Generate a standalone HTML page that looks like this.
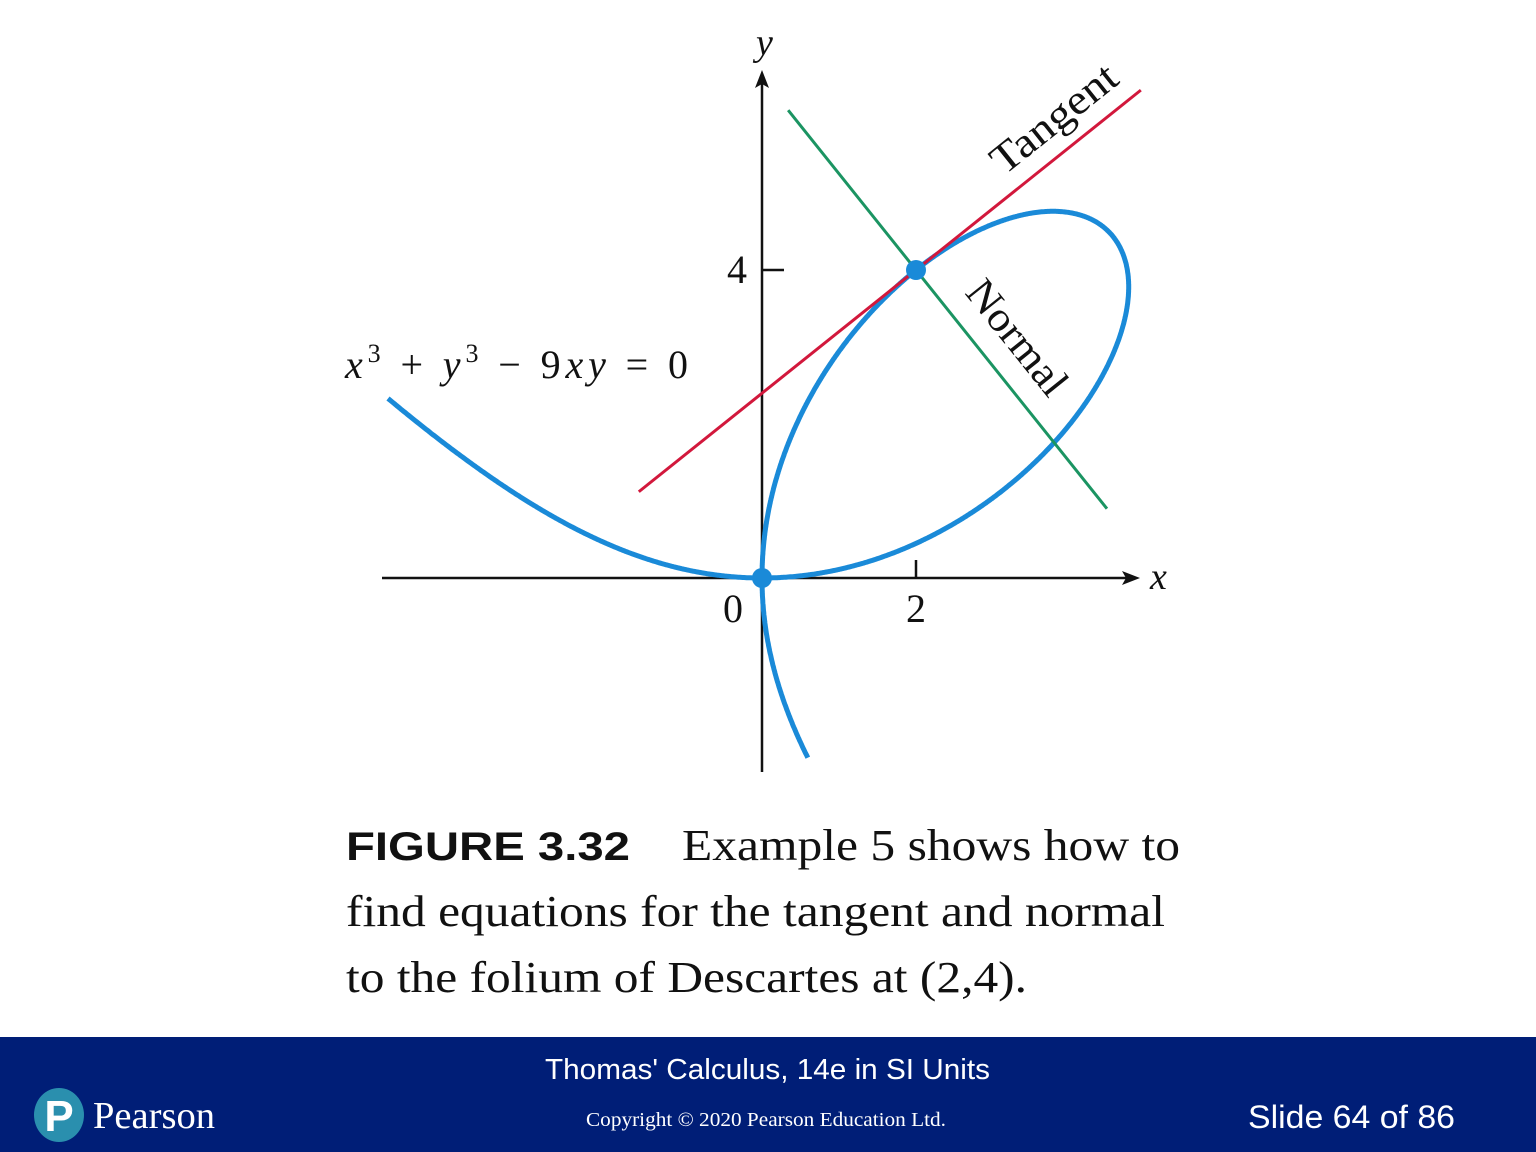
<!DOCTYPE html>
<html><head><meta charset="utf-8"><style>
html,body{margin:0;padding:0;width:1536px;height:1152px;overflow:hidden;background:#fff;}
svg text{font-family:"Liberation Serif",serif;}
</style></head><body>
<svg width="1536" height="1152" viewBox="0 0 1536 1152">
<g id="chart"></g>
<text x="346" y="860" font-weight="bold" font-size="40" fill="#111" textLength="284" lengthAdjust="spacingAndGlyphs" style="font-family:'Liberation Sans',sans-serif">FIGURE 3.32</text>
<text x="682" y="860" font-size="44" fill="#111" textLength="498" lengthAdjust="spacingAndGlyphs">Example 5 shows how to</text>
<text x="346" y="926" font-size="44" fill="#111" textLength="819" lengthAdjust="spacingAndGlyphs">find equations for the tangent and normal</text>
<text x="346" y="992" font-size="44" fill="#111" textLength="681" lengthAdjust="spacingAndGlyphs">to the folium of Descartes at (2,4).</text>
<rect x="0" y="1037" width="1536" height="115" fill="#001e77"/>
<text x="545" y="1079" font-size="29" fill="#fff" textLength="445" lengthAdjust="spacingAndGlyphs" style="font-family:'Liberation Sans',sans-serif">Thomas' Calculus, 14e in SI Units</text>
<text x="586" y="1126" font-size="20" fill="#fff" textLength="360" lengthAdjust="spacingAndGlyphs">Copyright © 2020 Pearson Education Ltd.</text>
<text x="1248" y="1128" font-size="32" fill="#fff" textLength="207" lengthAdjust="spacingAndGlyphs" style="font-family:'Liberation Sans',sans-serif">Slide 64 of 86</text>
<g>
<ellipse cx="59" cy="1115" rx="25" ry="27" fill="#2a8fae"/>
<text x="59" y="1131" text-anchor="middle" font-size="44" font-weight="bold" fill="#fff" style="font-family:'Liberation Sans',sans-serif">P</text>
<text x="93" y="1128" font-size="38" fill="#fff" textLength="122" lengthAdjust="spacingAndGlyphs">Pearson</text>
</g>
</svg>
<script>
const tRange=[-0.48,-0.255];
const tangentX=[-1.6,4.92];
const normalX=[0.34,4.48];
const pointsX=[0,2];
const pointsY=[0,4];
const xTicks=[2];
const yTicks=[4];
const ox=762,oy=578,s=77;
const X=v=>ox+v*s, Y=v=>oy-v*s;
const NS="http://www.w3.org/2000/svg";
const g=document.getElementById('chart');
function mk(t,a){const e=document.createElementNS(NS,t);for(const k in a)e.setAttribute(k,a[k]);g.appendChild(e);return e;}
let e=mk('line',{x1:382,y1:oy,x2:1132,y2:oy,stroke:'#111','stroke-width':2.5});

e=mk('path',{d:`M1140 ${oy} L1122 ${oy-7} L1126 ${oy} L1122 ${oy+7}Z`,fill:'#111'});

e=mk('line',{x1:ox,y1:772,x2:ox,y2:78,stroke:'#111','stroke-width':2.5});

e=mk('path',{d:`M${ox} 70 L${ox-7} 88 L${ox} 84 L${ox+7} 88Z`,fill:'#111'});

xTicks.forEach(v=>{e=mk('line',{x1:X(v),y1:oy,x2:X(v),y2:oy-18,stroke:'#111','stroke-width':2.5});

e=mk('text',{x:X(v),y:622,'text-anchor':'middle','font-size':40,fill:'#111'});e.textContent=v;
});
yTicks.forEach(v=>{e=mk('line',{x1:ox,y1:Y(v),x2:ox+22,y2:Y(v),stroke:'#111','stroke-width':2.5});

e=mk('text',{x:747,y:Y(v)+13,'text-anchor':'end','font-size':40,fill:'#111'});e.textContent=v;
});
e=mk('text',{x:733,y:622,'text-anchor':'middle','font-size':40,fill:'#111'});e.textContent='0';

e=mk('text',{x:1150,y:589,'font-size':38,'font-style':'italic',fill:'#111'});e.textContent='x';

e=mk('text',{x:756,y:55,'font-size':38,'font-style':'italic',fill:'#111'});e.textContent='y';

function pt(t){const d=1+t*t*t;return [9*t/d,9*t*t/d];}
let pa=[];for(let t=tRange[0];t<0;t+=0.002){const p=pt(t);pa.push(X(p[0]).toFixed(1)+' '+Y(p[1]).toFixed(1));}
pa.push(X(0)+' '+Y(0));
let pb=[];for(let u=0;u<=1;u+=0.001){const t=Math.tan(u*Math.PI/2*0.9995);const p=pt(t);pb.push(X(p[0]).toFixed(1)+' '+Y(p[1]).toFixed(1));}
let pd=[];for(let t=tRange[1];t<0;t+=0.002){const p=pt(t);pd.push(X(p[1]).toFixed(1)+' '+Y(p[0]).toFixed(1));}
pd.push(X(0)+' '+Y(0));
[['curve-left-branch',pa],['curve-loop',pb],['curve-lower-branch',pd]].forEach(([n,a])=>{
e=mk('path',{d:'M'+a.join(' L'),fill:'none',stroke:'#1a8ad8','stroke-width':5,'stroke-linejoin':'round'});
});
const tf=x=>0.8*x+2.4, nf=x=>-1.25*x+6.5;
e=mk('line',{x1:X(tangentX[0]),y1:Y(tf(tangentX[0])),x2:X(tangentX[1]),y2:Y(tf(tangentX[1])),stroke:'#d2183c','stroke-width':3});

e=mk('line',{x1:X(normalX[0]),y1:Y(nf(normalX[0])),x2:X(normalX[1]),y2:Y(nf(normalX[1])),stroke:'#1b9462','stroke-width':3});

pointsX.forEach((v,i)=>{e=mk('circle',{cx:X(v),cy:Y(pointsY[i]),r:10,fill:'#1a8ad8'});
});
e=mk('text',{x:0,y:0,'font-size':42,fill:'#111',transform:'translate(1004,176) rotate(-38.7)',textLength:150,lengthAdjust:'spacingAndGlyphs'});e.textContent='Tangent';

e=mk('text',{x:0,y:0,'font-size':42,fill:'#111',transform:'translate(964,293) rotate(51.3)',textLength:136,lengthAdjust:'spacingAndGlyphs'});e.textContent='Normal';

e=mk('text',{x:345,y:378,'font-size':40,fill:'#111',textLength:343,lengthAdjust:'spacing'});
e.innerHTML='<tspan font-style="italic">x</tspan><tspan dy="-16" font-size="26">3</tspan><tspan dy="16"> + </tspan><tspan font-style="italic">y</tspan><tspan dy="-16" font-size="26">3</tspan><tspan dy="16"> − 9</tspan><tspan font-style="italic">xy</tspan><tspan> = 0</tspan>';

</script>
</body></html>
